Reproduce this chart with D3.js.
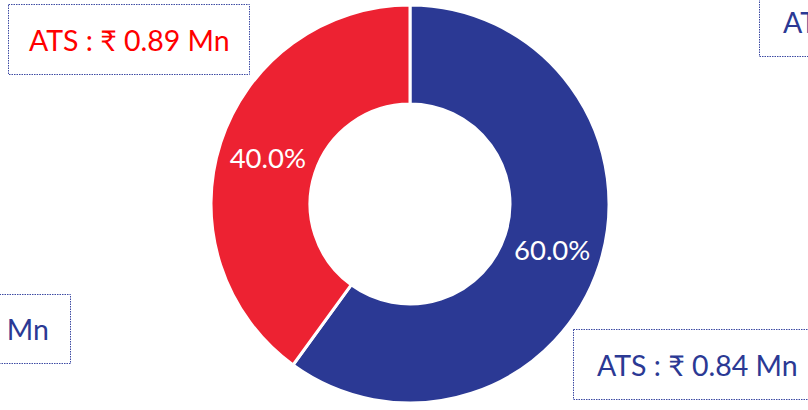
<!DOCTYPE html>
<html>
<head>
<meta charset="utf-8">
<script src="https://cdn.jsdelivr.net/npm/d3@7"></script>
<style>
  html, body { margin: 0; padding: 0; background: #ffffff; }
  svg { display: block; }
</style>
</head>
<body>
<svg id="chart" width="808" height="410"></svg>
<script>
// Share of deals by segment (percent) and the average ticket size callouts
const categories = ["Segment B", "Segment A"];
const shares = [40.0, 60.0];
const sliceColors = ["#ED2232", "#2B3994"];

// Callout boxes: text and colour
const calloutTexts = ["ATS : ₹ 0.89 Mn", "ATS : ₹ 0.84 Mn", "ATS : ₹ 0.84 Mn", "ATS : ₹ 0.91 Mn"];
const calloutColors = ["#FF0000", "#2B3994", "#2B3994", "#2B3994"];

const W = 808, H = 410;
const cx = 410, cy = 204;
const outerR = 199, innerR = 100;
const FONT = "Lato, 'Noto Sans', 'DejaVu Sans', sans-serif";

const svg = d3.select("#chart");

// Pie layout: blue slice starts at 12 o'clock going clockwise, red fills the rest
const order = [1, 0];
const pie = d3.pie().sort(null).value(i => shares[i]);
const arcs = pie(order);
const arc = d3.arc().innerRadius(innerR).outerRadius(outerR);

const g = svg.append("g").attr("transform", `translate(${cx},${cy})`);

g.selectAll("path.slice")
  .data(arcs)
  .join("path")
  .attr("class", "slice")
  .attr("d", arc)
  .attr("fill", d => sliceColors[d.data])
  .attr("stroke", "#ffffff")
  .attr("stroke-width", 3)
  .attr("stroke-linejoin", "miter");

g.selectAll("text.pct")
  .data(arcs)
  .join("text")
  .attr("class", "pct")
  .attr("x", d => arc.centroid(d)[0])
  .attr("y", d => arc.centroid(d)[1])
  .attr("dy", "0.36em")
  .attr("text-anchor", "middle")
  .attr("fill", "#ffffff")
  .attr("font-family", FONT)
  .attr("font-size", 27.5)
  .text(d => shares[d.data].toFixed(1) + "%");

// Callout boxes (dotted frames), some partly outside the view
const boxes = [
  { x: 8,    y: 4,   w: 241, h: 70, anchor: "start", tx: 29 },
  { x: 573,  y: 329, w: 242, h: 70, anchor: "start", tx: 597 },
  { x: -171, y: 294, w: 241, h: 69, anchor: "end",   tx: 49 },
  { x: 759,  y: -14, w: 242, h: 70, anchor: "start", tx: 783 }
];

const cg = svg.append("g");
boxes.forEach((b, i) => {
  cg.append("rect")
    .attr("x", b.x + 0.5).attr("y", b.y + 0.5)
    .attr("width", b.w).attr("height", b.h)
    .attr("fill", "none")
    .attr("stroke", "#3D4AA3")
    .attr("stroke-width", 1)
    .attr("stroke-dasharray", "1.5,1");
  cg.append("text")
    .attr("x", b.tx)
    .attr("y", b.y + b.h - 23)
    .attr("text-anchor", b.anchor)
    .attr("fill", calloutColors[i])
    .attr("font-family", FONT)
    .attr("font-size", 28.5)
    .text(calloutTexts[i]);
});
</script>
</body>
</html>
